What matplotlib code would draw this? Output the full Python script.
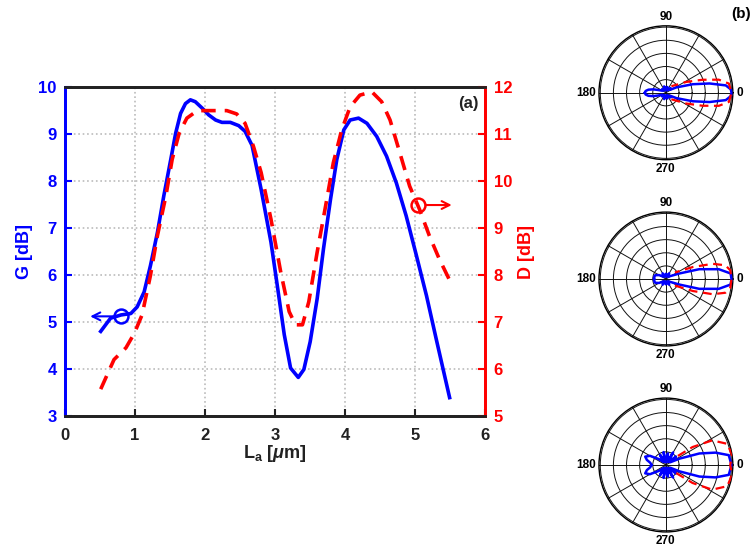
import numpy as np
import matplotlib
matplotlib.use('Agg')
import matplotlib.pyplot as plt

plt.rcParams['font.family'] = ['Liberation Sans', 'DejaVu Sans']
plt.rcParams['font.weight'] = 'bold'
plt.rcParams['mathtext.fontset'] = 'custom'
plt.rcParams['mathtext.rm'] = 'Liberation Sans:bold'
plt.rcParams['mathtext.it'] = 'Liberation Sans:italic:bold'
plt.rcParams['mathtext.bf'] = 'Liberation Sans:bold'

# gain G [dB] vs La
la_g = [0.51, 0.65, 0.80, 0.94, 1.03, 1.13, 1.22, 1.32, 1.41, 1.51, 1.58, 1.65,
        1.72, 1.79, 1.86, 1.96, 2.05, 2.15, 2.24, 2.36, 2.48, 2.57, 2.67, 2.80,
        2.94, 3.03, 3.13, 3.22, 3.33, 3.41, 3.50, 3.60, 3.69, 3.79, 3.88, 3.98,
        4.07, 4.19, 4.31, 4.45, 4.59, 4.73, 4.87, 5.01, 5.16, 5.30, 5.49]
gain = [4.80, 5.08, 5.15, 5.18, 5.32, 5.64, 6.20, 6.91, 7.68, 8.46, 9.02, 9.44,
        9.65, 9.73, 9.69, 9.55, 9.41, 9.30, 9.25, 9.25, 9.18, 9.06, 8.76, 7.82,
        6.70, 5.78, 4.73, 4.02, 3.82, 3.99, 4.58, 5.50, 6.56, 7.61, 8.46, 9.09,
        9.30, 9.34, 9.23, 8.95, 8.53, 7.96, 7.26, 6.45, 5.56, 4.63, 3.39]

# directivity D [dB] vs La
la_d = [0.51, 0.70, 0.87, 0.99, 1.10, 1.22, 1.32, 1.44, 1.53, 1.63, 1.74, 1.89,
        2.08, 2.31, 2.45, 2.57, 2.69, 2.80, 2.94, 3.08, 3.20, 3.29, 3.39, 3.48,
        3.60, 3.72, 3.83, 3.95, 4.07, 4.21, 4.38, 4.52, 4.64, 4.78, 4.92, 5.06,
        5.20, 5.34, 5.49]
direc = [5.57, 6.20, 6.45, 6.76, 7.15, 7.99, 8.84, 9.68, 10.46, 11.02, 11.34, 11.50,
         11.50, 11.50, 11.43, 11.23, 10.74, 10.18, 9.19, 8.06, 7.22, 6.94, 6.94, 7.43,
         8.49, 9.47, 10.39, 11.09, 11.58, 11.83, 11.90, 11.69, 11.30, 10.60, 9.89, 9.40,
         8.84, 8.35, 7.89]

# radiation patterns (half, 0..180 deg, mirrored), normalised
ang_top_g = [0, 3, 7, 12, 17.6, 27, 35, 45, 60, 75, 90, 105, 120, 135, 150, 160, 165, 170, 175, 180]
r_top_g = [1.0, 0.99, 0.92, 0.68, 0.43, 0.18, 0.08, 0.1, 0.04, 0.09, 0.05, 0.1, 0.04, 0.08, 0.06, 0.12, 0.2, 0.27, 0.31, 0.32]
ang_top_d = [0, 8.3, 13.9, 19.6, 28, 50]
r_top_d = [1.0, 0.97, 0.83, 0.59, 0.35, 0.13]

ang_mid_g = [0, 4.9, 10.5, 16.4, 22, 30, 45, 60, 75, 90, 105, 120, 135, 150, 160, 165, 170, 175, 180]
r_mid_g = [1.0, 0.99, 0.82, 0.53, 0.23, 0.1, 0.05, 0.1, 0.04, 0.08, 0.04, 0.1, 0.05, 0.12, 0.17, 0.18, 0.18, 0.18, 0.18]
ang_mid_d = [0, 7.8, 13, 18, 24, 36]
r_mid_d = [1.0, 0.99, 0.93, 0.75, 0.45, 0.17]

ang_bot_g = [0, 8.9, 14, 19, 25, 32, 40, 50, 60, 70, 80, 90, 100, 110, 120, 130, 140, 150, 158, 165, 172, 180]
r_bot_g = [1.0, 0.97, 0.78, 0.54, 0.23, 0.08, 0.2, 0.06, 0.22, 0.05, 0.18, 0.04, 0.2, 0.06, 0.18, 0.06, 0.14, 0.28, 0.34, 0.3, 0.24, 0.22]
ang_bot_d = [0, 8.4, 19, 28, 34, 38]
r_bot_d = [0.98, 1.02, 0.99, 0.80, 0.49, 0.2]

polar_angles = ['0', '90', '180', '270']

fig = plt.figure(figsize=(7.52, 5.48), dpi=100)
ax = fig.add_axes([0.0864, 0.241, 0.559, 0.600])
ax2 = ax.twinx()

ax.plot(la_g, gain, color='#0000ff', lw=2.6, zorder=3)
ax2.plot(la_d, direc, color='#ff0000', lw=2.6, ls=(0, (4, 2.5)), zorder=3)

ax.set_xlim(0, 6)
ax.set_ylim(3, 10)
ax2.set_ylim(5, 12)
ax.set_xticks(range(0, 7))
ax.set_yticks(range(3, 11))
ax2.set_yticks(range(5, 13))
ax.grid(True, ls=':', color='#bbbbbb', lw=1.2)
ax.set_axisbelow(True)

for a in (ax, ax2):
    for s in a.spines.values():
        s.set_linewidth(2)
    a.spines['top'].set_color('#222222')
    a.spines['bottom'].set_color('#222222')
    a.spines['left'].set_color('#0000ff')
    a.spines['right'].set_color('#ff0000')

ax.tick_params(axis='x', direction='in', length=5, width=1.5, labelsize=12, colors='#222222', pad=9)
ax.tick_params(axis='y', direction='in', length=5, width=1.5, labelsize=12, colors='#0000ff', pad=6)
ax2.tick_params(axis='y', direction='in', length=5, width=1.5, labelsize=12, colors='#ff0000', pad=6)
for lab in ax.get_xticklabels() + ax.get_yticklabels() + ax2.get_yticklabels():
    lab.set_fontweight('bold')

ax.set_xlabel(r'L$_\mathrm{a}$ [$\mu$m]', fontsize=13, fontweight='bold', color='#222222', labelpad=0)
ax.set_ylabel('G [dB]', fontsize=13, fontweight='bold', color='#0000ff', labelpad=4)
ax2.set_ylabel('D [dB]', fontsize=13, fontweight='bold', color='#ff0000', labelpad=4)
ax.text(5.9, 9.65, '(a)', fontsize=12, fontweight='bold', ha='right', va='center', color='#222222')

# curve markers with arrows
ax.plot([0.8], [5.12], 'o', ms=10, mfc='none', mec='#0000ff', mew=1.8, zorder=4)
ax.annotate('', xy=(0.32, 5.12), xytext=(0.73, 5.12),
            arrowprops=dict(arrowstyle='->', color='#0000ff', lw=1.5, mutation_scale=14))
ax2.plot([5.04], [9.49], 'o', ms=10, mfc='none', mec='#ff0000', mew=1.8, zorder=4)
ax2.annotate('', xy=(5.56, 9.49), xytext=(5.11, 9.49),
             arrowprops=dict(arrowstyle='->', color='#ff0000', lw=1.5, mutation_scale=14))


def mirror(ang, r):
    a = np.array(ang, dtype=float)
    rr = np.array(r, dtype=float)
    full_a = np.concatenate([-a[::-1], a[1:]])
    full_r = np.concatenate([rr[::-1], rr[1:]])
    return np.deg2rad(full_a), full_r


polar_specs = [
    (0.7085, ang_top_g, r_top_g, ang_top_d, r_top_d),
    (0.3686, ang_mid_g, r_mid_g, ang_mid_d, r_mid_d),
    (0.0292, ang_bot_g, r_bot_g, ang_bot_d, r_bot_d),
]
label_align = [('left', 'center'), ('center', 'bottom'), ('right', 'center'), ('center', 'top')]
for bottom, ag, rg, ad, rd in polar_specs:
    pa = fig.add_axes([0.7965, bottom, 0.178, 0.2445], projection='polar')
    t, r = mirror(ag, rg)
    pa.plot(t, r, color='#0000ff', lw=1.8, zorder=3)
    t, r = mirror(ad, rd)
    pa.plot(t, r, color='#ff0000', lw=1.6, ls=(0, (4, 2.5)), zorder=3)
    pa.set_ylim(0, 1.02)
    pa.set_yticks([0.2, 0.4, 0.6, 0.8, 1.0])
    pa.set_yticklabels([])
    pa.set_thetagrids(range(0, 360, 30), labels=[''] * 12)
    for lab, (ha, va) in zip(polar_angles, label_align):
        pa.text(np.deg2rad(float(lab)), 1.07, lab, fontsize=8.5, fontweight='bold',
                ha=ha, va=va, clip_on=False)
    pa.grid(True, color='#111111', lw=0.7, ls='-')
    pa.spines['polar'].set_linewidth(1.0)

fig.text(0.998, 0.975, '(b)', fontsize=11, fontweight='bold', ha='right', va='center')

fig.savefig('out.png', dpi=100)
